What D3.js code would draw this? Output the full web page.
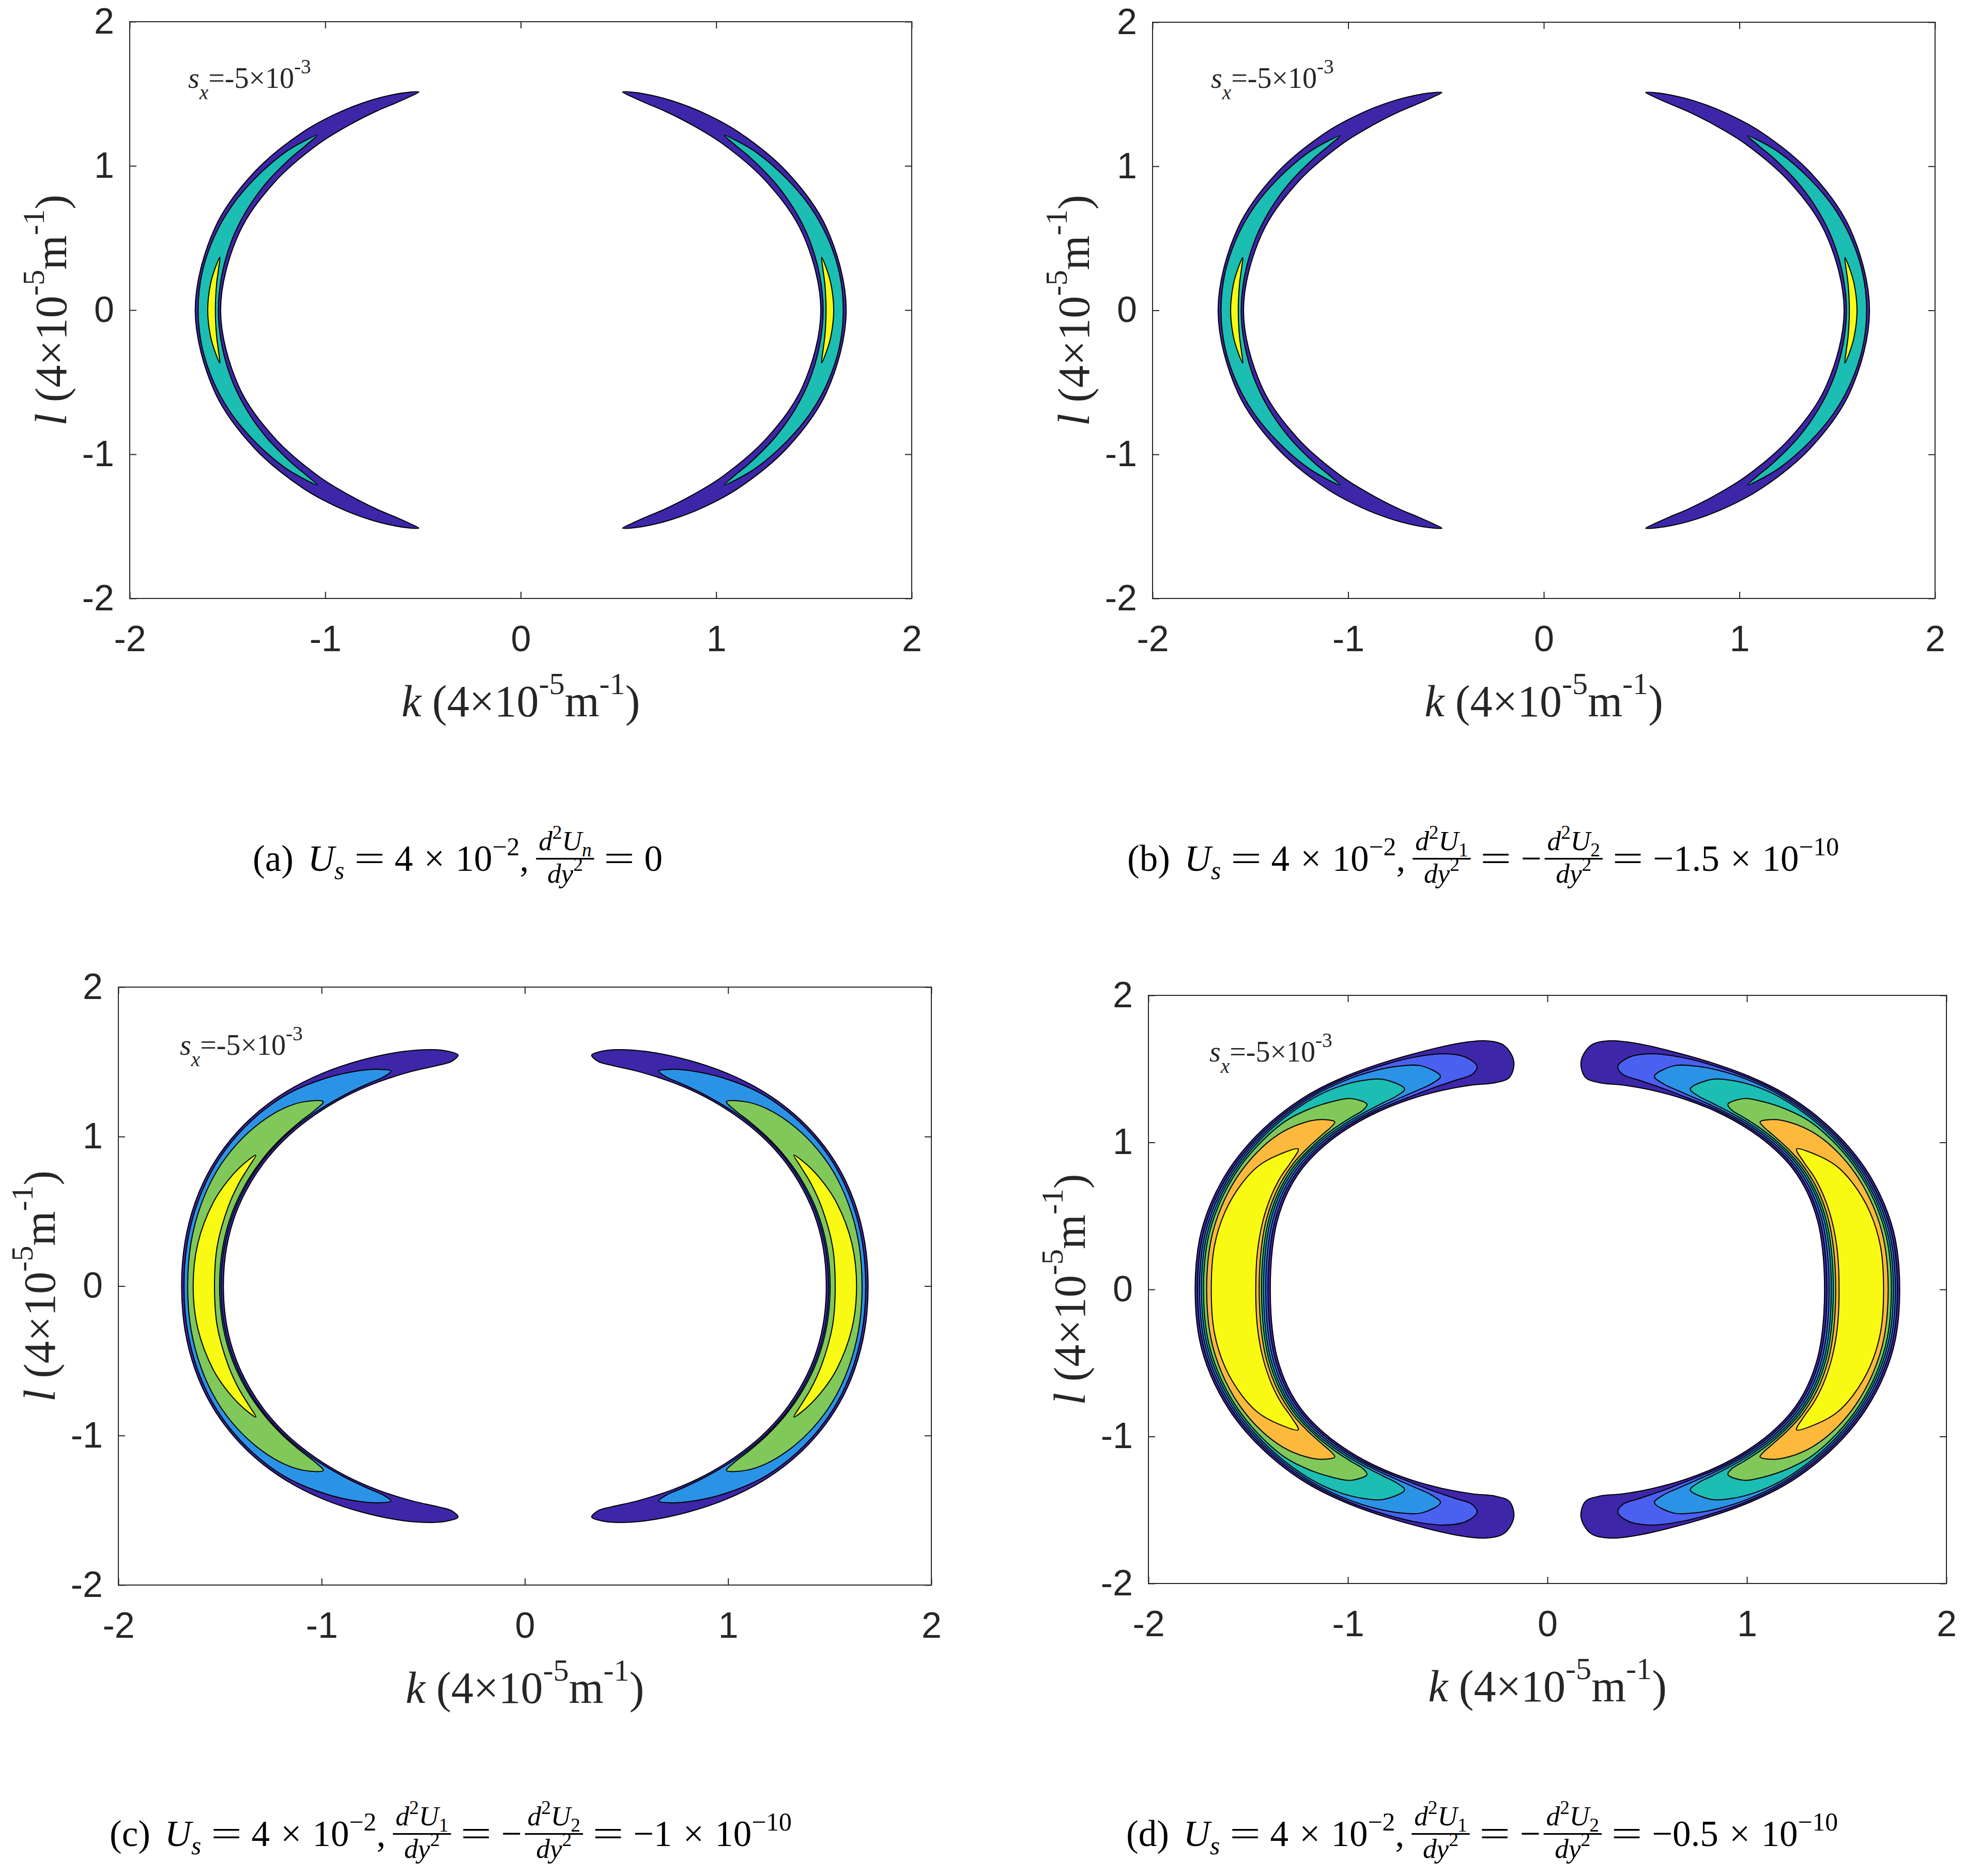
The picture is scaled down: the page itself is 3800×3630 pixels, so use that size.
<!DOCTYPE html>
<html>
<head>
<meta charset="utf-8">
<script src="https://cdn.jsdelivr.net/npm/d3@7"></script>
<style>
  body { margin: 0; background: #fff; }
</style>
</head>
<body>
<svg id="fig" width="3800" height="3630"></svg>
<script>

// tick values shared by all four panels
var ticks = [-2, -1, 0, 1, 2];

// contour bands, right crescent, upper half.
// each row: [angle from +k axis (deg), inner radius, outer radius] ; last row = tip
// (a) and (b) look the same
var aPurple = [[0,1.535,1.665],[20,1.536,1.665],[35,1.54,1.665],[48,1.548,1.663],[56,1.555,1.656],[62,1.565,1.645],[66,1.572,1.632],[69,1.585,1.617],[71,1.60,1.60]];
var aTeal   = [[0,1.547,1.65],[9,1.548,1.65],[18,1.555,1.648],[26,1.563,1.645],[34,1.572,1.637],[42,1.58,1.628],[46,1.585,1.615],[49.3,1.598,1.598]];
var aYellow = [[0,1.562,1.601],[6.5,1.566,1.597],[10.5,1.572,1.59],[13.4,1.582,1.582]];

var cPurple = [[0,1.483,1.689],[10,1.49,1.698],[19,1.503,1.716],[27,1.516,1.735],[34,1.528,1.748],[41,1.537,1.755],[48,1.542,1.752],[55,1.545,1.737],[62,1.544,1.712],[69,1.54,1.68],[74,1.537,1.645],[76.5,1.545,1.615],[78,1.58,1.58]];
var cBlue   = [[0,1.495,1.677],[10,1.502,1.686],[19,1.515,1.704],[27,1.528,1.723],[34,1.54,1.736],[41,1.549,1.742],[48,1.554,1.735],[55,1.556,1.70],[60,1.558,1.66],[63.5,1.562,1.62],[65.4,1.582,1.582]];
var cGreen  = [[0,1.502,1.659],[10,1.509,1.668],[19,1.522,1.684],[27,1.535,1.70],[34,1.546,1.706],[40,1.554,1.70],[45,1.56,1.68],[48.5,1.565,1.645],[51.2,1.583,1.583]];
var cYellow = [[0,1.527,1.632],[10,1.537,1.634],[20,1.553,1.632],[26,1.566,1.622],[30.5,1.575,1.607],[33.5,1.587,1.587]];

var dPurple = [[0,1.389,1.766],[11,1.405,1.777],[19,1.432,1.786],[27,1.46,1.793],[34,1.479,1.795],[41,1.485,1.793],[48,1.483,1.786],[55,1.476,1.768],[62,1.465,1.748],[69,1.452,1.735],[75,1.44,1.732],[79.5,1.43,1.72],[82.5,1.455,1.675],[83.8,1.56,1.56]];
var dBlue   = [[0,1.401,1.754],[11,1.417,1.765],[19,1.444,1.774],[27,1.472,1.781],[34,1.491,1.783],[41,1.497,1.781],[48,1.495,1.774],[55,1.488,1.756],[62,1.48,1.733],[67,1.485,1.715],[72,1.495,1.685],[75.5,1.51,1.63],[76.9,1.557,1.557]];
var dSky    = [[0,1.412,1.744],[11,1.428,1.755],[19,1.455,1.764],[27,1.483,1.771],[34,1.502,1.773],[41,1.508,1.771],[48,1.506,1.764],[55,1.499,1.744],[60,1.497,1.72],[64,1.502,1.69],[67.5,1.515,1.645],[69.7,1.545,1.545]];
var dTeal   = [[0,1.423,1.734],[11,1.439,1.745],[19,1.466,1.754],[27,1.494,1.761],[34,1.513,1.763],[41,1.519,1.761],[48,1.517,1.752],[53,1.513,1.73],[57,1.513,1.695],[60,1.517,1.65],[62.3,1.54,1.54]];
var dGreen  = [[0,1.433,1.724],[11,1.449,1.735],[19,1.476,1.744],[27,1.504,1.751],[34,1.523,1.751],[41,1.529,1.742],[46,1.53,1.71],[50,1.529,1.67],[52.8,1.53,1.63],[54.3,1.55,1.55]];
var dOrange = [[0,1.445,1.708],[11,1.461,1.719],[19,1.488,1.728],[27,1.516,1.733],[34,1.535,1.726],[39,1.54,1.705],[43,1.543,1.665],[45.5,1.548,1.62],[46.9,1.56,1.56]];
var dYellow = [[0,1.462,1.685],[10,1.476,1.695],[18,1.50,1.70],[25,1.525,1.693],[30,1.541,1.675],[34,1.55,1.632],[37.4,1.572,1.572]];

// colours (parula-like)
var cPur = "#3e26a8", cRoy = "#4a60f0", cSky = "#2b93e6", cTea = "#1cbdb2",
    cGre = "#80c85a", cOra = "#fcb93c", cYel = "#f9fa14";

// text pieces
var xLabel = [{t:"k", i:1}, {t:" (4×10"}, {sup:"-5"}, {t:"m"}, {sup:"-1"}, {t:")"}];
var yLabel = [{t:"l", i:1}, {t:" (4×10"}, {sup:"-5"}, {t:"m"}, {sup:"-1"}, {t:")"}];
var note   = [{t:"s", i:1}, {sub:"x", i:1}, {t:"=-5×10"}, {sup:"-3"}];

function dd(sub) {
  return {frac: [[{t:"d", i:1}, {sup:"2"}, {t:"U", i:1}, {sub:sub, i: sub === "n"}],
                 [{t:"d", i:1}, {t:"y", i:1}, {sup:"2"}]]};
}
var capStart = [{t:"U", i:1}, {sub:"s", i:1}, {rel:"="}, {t:"4"}, {bin:"×"}, {t:"10"}, {sup:"−2"}, {t:","}, {sp:14}];
var capA = [{t:"(a)"}, {sp:28}].concat(capStart, [dd("n"), {rel:"="}, {t:"0"}]);
var capB = [{t:"(b)"}, {sp:28}].concat(capStart, [dd("1"), {rel:"="}, {t:"−"}, {sp:6}, dd("2"), {rel:"="}, {t:"−1.5"}, {bin:"×"}, {t:"10"}, {sup:"−10"}]);
var capC = [{t:"(c)"}, {sp:28}].concat(capStart, [dd("1"), {rel:"="}, {t:"−"}, {sp:6}, dd("2"), {rel:"="}, {t:"−1"}, {bin:"×"}, {t:"10"}, {sup:"−10"}]);
var capD = [{t:"(d)"}, {sp:28}].concat(capStart, [dd("1"), {rel:"="}, {t:"−"}, {sp:6}, dd("2"), {rel:"="}, {t:"−0.5"}, {bin:"×"}, {t:"10"}, {sup:"−10"}]);

var panels = [
  {box:[251, 42, 1764, 1158], bands:[[aPurple,cPur],[aTeal,cTea],[aYellow,cYel]], note:[364,170], cap:[489,1685], parts:capA},
  {box:[2230, 43, 3744, 1158], bands:[[aPurple,cPur],[aTeal,cTea],[aYellow,cYel]], note:[2343,170], cap:[2181,1685], parts:capB},
  {box:[229, 1910, 1802, 3067], bands:[[cPurple,cPur],[cBlue,cSky],[cGreen,cGre],[cYellow,cYel]], note:[348,2041], cap:[212,3572], parts:capC},
  {box:[2222, 1926, 3766, 3064], bands:[[dPurple,cPur],[dBlue,cRoy],[dSky,cSky],[dTeal,cTea],[dGreen,cGre],[dOrange,cOra],[dYellow,cYel]], note:[2340,2054], cap:[2179,3572], parts:capD}
];

var svg = d3.select("#fig");
svg.append("rect").attr("width", 3800).attr("height", 3630).attr("fill", "#fff");

var texOpt = {up:0.5, down:0.4, small:0.7, frac:0.74};
var latexOpt = {up:0.42, down:0.22, small:0.7, frac:0.75};

function word(g, txt, x, y, fs, italic, stretch) {
  var t = g.append("text")
    .attr("font-size", fs)
    .style("font-style", italic ? "italic" : "normal")
    .text(txt.replace(/ /g, "\u00a0"));
  if (stretch) {
    t.attr("transform", "translate(" + x + "," + y + ") scale(" + stretch + ",1)");
    return t.node().getComputedTextLength() * stretch;
  }
  t.attr("x", x).attr("y", y);
  return t.node().getComputedTextLength();
}

// writes a run of text pieces starting at x, returns end x
function drawParts(g, parts, x, y, size, o) {
  parts.forEach(function (p) {
    if (p.sp) { x += p.sp; return; }
    if (p.rel) { x += size * 0.26; x += word(g, p.rel, x, y, size, false, 1.5); x += size * 0.26; return; }
    if (p.bin) { x += size * 0.3; x += word(g, p.bin, x, y, size); x += size * 0.3; return; }
    if (p.frac) {
      var fs = size * o.frac;
      var ng = g.append("g"), dg = g.append("g");
      var nw = drawParts(ng, p.frac[0], 0, y - size * 0.56, fs, o);
      var dw = drawParts(dg, p.frac[1], 0, y + size * 0.32, fs, o);
      var w = Math.max(nw, dw) + 10;
      ng.attr("transform", "translate(" + (x + (w - nw) / 2) + ",0)");
      dg.attr("transform", "translate(" + (x + (w - dw) / 2) + ",0)");
      g.append("line")
        .attr("x1", x).attr("x2", x + w)
        .attr("y1", y - size * 0.33).attr("y2", y - size * 0.33)
        .attr("stroke", "#000").attr("stroke-width", size * 0.045);
      x += w;
      return;
    }
    if (p.sub !== undefined) { x += word(g, p.sub, x, y + size * o.down, size * o.small, p.i); return; }
    if (p.sup !== undefined) { x += word(g, p.sup, x, y - size * o.up, size * o.small, p.i); return; }
    x += word(g, p.t, x, y, size, p.i);
  });
  return x;
}

function ring(rows) {
  var n = rows.length, tip = rows[n - 1], body = rows.slice(0, n - 1), pts = [], i;
  for (i = body.length - 1; i > 0; i--) pts.push([-body[i][0], body[i][2]]);
  for (i = 0; i < body.length; i++) pts.push([body[i][0], body[i][2]]);
  pts.push([tip[0], tip[1]]);
  for (i = body.length - 1; i >= 0; i--) pts.push([body[i][0], body[i][1]]);
  for (i = 1; i < body.length; i++) pts.push([-body[i][0], body[i][1]]);
  pts.push([-tip[0], tip[1]]);
  return pts.map(function (p) {
    var a = p[0] * Math.PI / 180;
    return [p[1] * Math.cos(a), p[1] * Math.sin(a)];
  });
}

panels.forEach(function (P) {
  var b = P.box;
  var x = d3.scaleLinear().domain([-2, 2]).range([b[0], b[2]]),
      y = d3.scaleLinear().domain([-2, 2]).range([b[3], b[1]]);
  var g = svg.append("g");

  // filled contours, low level first
  P.bands.forEach(function (band) {
    var pts = ring(band[0]);
    [1, -1].forEach(function (side) {
      var line = d3.line()
        .x(function (d) { return x(side * d[0]); })
        .y(function (d) { return y(d[1]); })
        .curve(d3.curveCatmullRomClosed.alpha(0.5));
      g.append("path")
        .attr("d", line(pts))
        .attr("fill", band[1])
        .attr("stroke", "#000")
        .attr("stroke-width", 2)
        .attr("stroke-linejoin", "round");
    });
  });

  // axes, ticks point inward on all sides
  var axB = g.append("g").attr("transform", "translate(0," + b[3] + ")")
    .call(d3.axisBottom(x).tickValues(ticks).tickFormat(String).tickSizeInner(-13).tickSizeOuter(0).tickPadding(52));
  var axL = g.append("g").attr("transform", "translate(" + b[0] + ",0)")
    .call(d3.axisLeft(y).tickValues(ticks).tickFormat(String).tickSizeInner(-13).tickSizeOuter(0).tickPadding(30));
  var axT = g.append("g").attr("transform", "translate(0," + b[1] + ")")
    .call(d3.axisTop(x).tickValues(ticks).tickFormat("").tickSizeInner(-13).tickSizeOuter(0));
  var axR = g.append("g").attr("transform", "translate(" + b[2] + ",0)")
    .call(d3.axisRight(y).tickValues(ticks).tickFormat("").tickSizeInner(-13).tickSizeOuter(0));
  [axB, axL, axT, axR].forEach(function (a) {
    a.attr("color", "#262626").attr("font-family", "'Liberation Sans', Arial, sans-serif").attr("font-size", 70);
    a.select(".domain").remove();
    a.selectAll(".tick line").attr("stroke-width", 2);
  });
  g.append("rect")
    .attr("x", b[0]).attr("y", b[1])
    .attr("width", b[2] - b[0]).attr("height", b[3] - b[1])
    .attr("fill", "none").attr("stroke", "#262626").attr("stroke-width", 2);

  // axis labels
  var serif = "'Liberation Serif', 'Times New Roman', serif";
  var xl = g.append("g").attr("font-family", serif).attr("fill", "#262626");
  var xw = drawParts(xl, xLabel, 0, 0, 86, texOpt);
  xl.attr("transform", "translate(" + ((b[0] + b[2]) / 2 - xw / 2) + "," + (b[3] + 228) + ")");

  var yl = g.append("g").attr("font-family", serif).attr("fill", "#262626");
  var yin = yl.append("g");
  var yw = drawParts(yin, yLabel, 0, 0, 86, texOpt);
  yin.attr("transform", "translate(" + (-yw / 2) + ",0)");
  yl.attr("transform", "translate(" + (b[0] - 123) + "," + ((b[1] + b[3]) / 2) + ") rotate(-90)");

  // s_x note inside the axes
  var nt = g.append("g").attr("font-family", serif).attr("fill", "#262626");
  drawParts(nt, note, P.note[0], P.note[1], 56, texOpt);

  // caption under the panel
  var cp = svg.append("g").attr("font-family", serif).attr("fill", "#000");
  drawParts(cp, P.parts, P.cap[0], P.cap[1], 71, latexOpt);
});

</script>
</body>
</html>
